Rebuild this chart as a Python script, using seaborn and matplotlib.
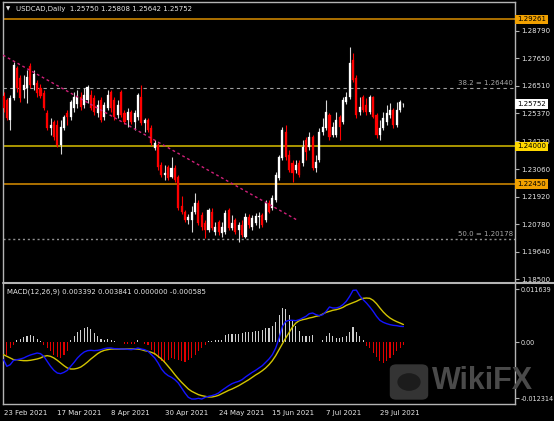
import matplotlib
matplotlib.use("Agg")
import matplotlib.pyplot as plt
import matplotlib.transforms as mtransforms
from matplotlib.patches import FancyBboxPatch, Circle
from matplotlib.lines import Line2D
import seaborn as sns
import numpy as np
import pandas as pd

# ---------------- data ----------------
opens = [1.2609, 1.2592, 1.2509, 1.2600, 1.2725, 1.2683, 1.2633, 1.2642, 1.2733, 1.2654,
         1.2662, 1.2642, 1.2621, 1.2538, 1.2476, 1.2501, 1.2489, 1.2406, 1.2476, 1.2538,
         1.2522, 1.2559, 1.2576, 1.2605, 1.2571, 1.2592, 1.2613, 1.2600, 1.2538, 1.2592,
         1.2522, 1.2559, 1.2625, 1.2592, 1.2530, 1.2625, 1.2538, 1.2509, 1.2542, 1.2501,
         1.2522, 1.2605, 1.2497, 1.2509, 1.2476, 1.2393, 1.2406, 1.2323, 1.2282, 1.2315,
         1.2273, 1.2311, 1.2273, 1.2153, 1.2129, 1.2095, 1.2095, 1.2129, 1.2166, 1.2116,
         1.2083, 1.2054, 1.2129, 1.2046, 1.2087, 1.2042, 1.2046, 1.2137, 1.2062, 1.2095,
         1.2054, 1.2075, 1.2025, 1.2108, 1.2066, 1.2083, 1.2108, 1.2116, 1.2095, 1.2166,
         1.2145, 1.2178, 1.2269, 1.2352, 1.2460, 1.2364, 1.2331, 1.2302, 1.2331, 1.2331,
         1.2427, 1.2398, 1.2439, 1.2311, 1.2344, 1.2460, 1.2476, 1.2530, 1.2447, 1.2447,
         1.2522, 1.2501, 1.2584, 1.2605, 1.2758, 1.2683, 1.2542, 1.2605, 1.2571, 1.2542,
         1.2605, 1.2530, 1.2447, 1.2476, 1.2501, 1.2530, 1.2551, 1.2489, 1.2551, 1.25750]
highs = [1.2625, 1.2600, 1.2613, 1.2749, 1.2733, 1.2696, 1.2696, 1.2716, 1.2745, 1.2716,
         1.2675, 1.2658, 1.2633, 1.2551, 1.2518, 1.2509, 1.2509, 1.2509, 1.2530, 1.2551,
         1.2592, 1.2625, 1.2633, 1.2625, 1.2642, 1.2654, 1.2633, 1.2613, 1.2592, 1.2605,
         1.2584, 1.2633, 1.2633, 1.2605, 1.2592, 1.2633, 1.2551, 1.2559, 1.2551, 1.2551,
         1.2621, 1.2654, 1.2518, 1.2518, 1.2489, 1.2427, 1.2414, 1.2336, 1.2323, 1.2323,
         1.2356, 1.2323, 1.2282, 1.2195, 1.2137, 1.2120, 1.2153, 1.2207, 1.2178, 1.2129,
         1.2095, 1.2145, 1.2145, 1.2087, 1.2095, 1.2087, 1.2137, 1.2145, 1.2116, 1.2104,
         1.2087, 1.2095, 1.2124, 1.2120, 1.2116, 1.2124, 1.2129, 1.2124, 1.2178, 1.2178,
         1.2199, 1.2294, 1.2364, 1.2480, 1.2489, 1.2385, 1.2344, 1.2344, 1.2344, 1.2427,
         1.2439, 1.2460, 1.2447, 1.2364, 1.2476, 1.2518, 1.2592, 1.2538, 1.2501, 1.2542,
         1.2530, 1.2605, 1.2625, 1.2811, 1.2787, 1.2696, 1.2605, 1.2613, 1.2600, 1.2613,
         1.2609, 1.2538, 1.2509, 1.2542, 1.2571, 1.2580, 1.2559, 1.2584, 1.2592, 1.25808]
lows = [1.2542, 1.2509, 1.2468, 1.2592, 1.2625, 1.2584, 1.2600, 1.2580, 1.2642, 1.2633,
        1.2605, 1.2600, 1.2551, 1.2468, 1.2447, 1.2427, 1.2398, 1.2369, 1.2468, 1.2489,
        1.2509, 1.2542, 1.2559, 1.2551, 1.2559, 1.2580, 1.2551, 1.2530, 1.2522, 1.2501,
        1.2509, 1.2551, 1.2542, 1.2509, 1.2518, 1.2522, 1.2493, 1.2480, 1.2493, 1.2468,
        1.2509, 1.2489, 1.2460, 1.2460, 1.2406, 1.2385, 1.2302, 1.2273, 1.2261, 1.2261,
        1.2269, 1.2253, 1.2137, 1.2120, 1.2087, 1.2079, 1.2046, 1.2120, 1.2075, 1.2054,
        1.2021, 1.2046, 1.2054, 1.2033, 1.2033, 1.2025, 1.2037, 1.2054, 1.2054, 1.2037,
        1.2004, 1.2025, 1.2021, 1.2062, 1.2054, 1.2075, 1.2062, 1.2066, 1.2087, 1.2124,
        1.2137, 1.2170, 1.2261, 1.2344, 1.2344, 1.2294, 1.2253, 1.2290, 1.2273, 1.2319,
        1.2344, 1.2385, 1.2302, 1.2294, 1.2336, 1.2447, 1.2468, 1.2427, 1.2439, 1.2439,
        1.2427, 1.2493, 1.2576, 1.2596, 1.2667, 1.2518, 1.2530, 1.2542, 1.2530, 1.2534,
        1.2518, 1.2435, 1.2427, 1.2468, 1.2489, 1.2518, 1.2476, 1.2480, 1.2542, 1.25642]
closes = [1.2559, 1.2518, 1.2600, 1.2737, 1.2642, 1.2600, 1.2654, 1.2687, 1.2654, 1.2700,
          1.2621, 1.2609, 1.2559, 1.2476, 1.2489, 1.2439, 1.2406, 1.2480, 1.2522, 1.2522,
          1.2584, 1.2605, 1.2605, 1.2563, 1.2613, 1.2646, 1.2559, 1.2542, 1.2571, 1.2509,
          1.2571, 1.2613, 1.2559, 1.2522, 1.2571, 1.2530, 1.2501, 1.2542, 1.2501, 1.2538,
          1.2613, 1.2497, 1.2509, 1.2468, 1.2414, 1.2414, 1.2315, 1.2282, 1.2290, 1.2269,
          1.2311, 1.2261, 1.2145, 1.2129, 1.2095, 1.2108, 1.2129, 1.2166, 1.2083, 1.2066,
          1.2054, 1.2137, 1.2062, 1.2066, 1.2046, 1.2066, 1.2124, 1.2062, 1.2083, 1.2046,
          1.2075, 1.2033, 1.2108, 1.2075, 1.2104, 1.2112, 1.2112, 1.2075, 1.2166, 1.2129,
          1.2186, 1.2282, 1.2356, 1.2468, 1.2356, 1.2302, 1.2290, 1.2323, 1.2282, 1.2398,
          1.2377, 1.2439, 1.2311, 1.2336, 1.2460, 1.2480, 1.2542, 1.2439, 1.2480, 1.2509,
          1.2480, 1.2592, 1.2605, 1.2745, 1.2675, 1.2530, 1.2563, 1.2551, 1.2542, 1.2605,
          1.2522, 1.2447, 1.2476, 1.2518, 1.2538, 1.2551, 1.2489, 1.2551, 1.2584, 1.25752]

macd_main = [-0.00388, -0.00534, -0.00498, -0.00402, -0.00388, -0.00373, -0.00351, -0.00315, -0.00285, -0.00263,
             -0.00242, -0.00256, -0.00315, -0.00425, -0.00534, -0.00622, -0.00681, -0.00695, -0.00666, -0.00622,
             -0.00534, -0.00447, -0.00351, -0.00278, -0.00220, -0.00190, -0.00183, -0.00190, -0.00183, -0.00168,
             -0.00146, -0.00132, -0.00132, -0.00146, -0.00146, -0.00154, -0.00154, -0.00161, -0.00168, -0.00154,
             -0.00132, -0.00154, -0.00168, -0.00205, -0.00278, -0.00351, -0.00461, -0.00593, -0.00681, -0.00739,
             -0.00776, -0.00827, -0.00900, -0.01010, -0.01120, -0.01215, -0.01252, -0.01252, -0.01237, -0.01252,
             -0.01215, -0.01193, -0.01178, -0.01156, -0.01120, -0.01061, -0.01010, -0.00959, -0.00915, -0.00886,
             -0.00864, -0.00827, -0.00768, -0.00717, -0.00666, -0.00622, -0.00571, -0.00520, -0.00447, -0.00373,
             -0.00278, -0.00132, 0.00088, 0.00344, 0.00454, 0.00476, 0.00476, 0.00468, 0.00490, 0.00527,
             0.00564, 0.00622, 0.00637, 0.00600, 0.00578, 0.00600, 0.00673, 0.00769, 0.00747, 0.00747,
             0.00769, 0.00820, 0.00893, 0.01003, 0.01135, 0.01140, 0.01017, 0.00930, 0.00856, 0.00769,
             0.00673, 0.00564, 0.00476, 0.00432, 0.00403, 0.00381, 0.00366, 0.00359, 0.00344, 0.003392]
macd_signal = [-0.00278, -0.00315, -0.00351, -0.00388, -0.00388, -0.00402, -0.00410, -0.00410, -0.00402, -0.00388,
               -0.00373, -0.00351, -0.00315, -0.00300, -0.00315, -0.00351, -0.00402, -0.00461, -0.00520, -0.00571,
               -0.00593, -0.00593, -0.00578, -0.00549, -0.00498, -0.00439, -0.00373, -0.00315, -0.00256, -0.00212,
               -0.00183, -0.00168, -0.00154, -0.00154, -0.00154, -0.00154, -0.00154, -0.00154, -0.00154, -0.00154,
               -0.00154, -0.00168, -0.00190, -0.00205, -0.00227, -0.00256, -0.00315, -0.00373, -0.00447, -0.00534,
               -0.00622, -0.00717, -0.00805, -0.00886, -0.00959, -0.01032, -0.01083, -0.01120, -0.01156, -0.01178,
               -0.01193, -0.01208, -0.01208, -0.01193, -0.01171, -0.01134, -0.01098, -0.01061, -0.01032, -0.00996,
               -0.00959, -0.00915, -0.00871, -0.00827, -0.00776, -0.00725, -0.00681, -0.00630, -0.00571, -0.00498,
               -0.00410, -0.00300, -0.00168, -0.00037, 0.00088, 0.00212, 0.00329, 0.00417, 0.00468, 0.00490,
               0.00505, 0.00527, 0.00542, 0.00564, 0.00578, 0.00615, 0.00651, 0.00673, 0.00696, 0.00710,
               0.00732, 0.00761, 0.00805, 0.00835, 0.00864, 0.00893, 0.00930, 0.00959, 0.00966, 0.00959,
               0.00915, 0.00842, 0.00747, 0.00659, 0.00586, 0.00527, 0.00483, 0.00447, 0.00417, 0.003841]
macd_hist = [-0.00242, -0.00278, -0.00132, -0.00059, 0.00037, 0.00066, 0.00102, 0.00139, 0.00146, 0.00124,
             0.00066, 0.00015, -0.00059, -0.00132, -0.00205, -0.00278, -0.00329, -0.00351, -0.00278, -0.00205,
             0.00051, 0.00139, 0.00212, 0.00271, 0.00307, 0.00329, 0.00285, 0.00198, 0.00124, 0.00066,
             0.00051, 0.00066, 0.00037, 0.00015, 0.00007, 0.0, -0.00037, -0.00044, -0.00051, -0.00044,
             0.00037, 0.0, -0.00037, -0.00059, -0.00168, -0.00278, -0.00351, -0.00425, -0.00461, -0.00403,
             -0.00351, -0.00373, -0.00403, -0.00425, -0.00439, -0.00403, -0.00351, -0.00278, -0.00205, -0.00132,
             -0.00059, 0.00015, 0.00015, 0.00037, 0.00037, 0.00051, 0.00161, 0.00176, 0.00183, 0.00176,
             0.00176, 0.00198, 0.00212, 0.00212, 0.00220, 0.00249, 0.00249, 0.00271, 0.00300, 0.00307,
             0.00359, 0.00432, 0.00600, 0.00747, 0.00725, 0.00600, 0.00490, 0.00359, 0.00234, 0.00139,
             0.00124, 0.00139, 0.00161, 0.0, 0.0, 0.00051, 0.00124, 0.00198, 0.00124, 0.00088,
             0.00088, 0.00102, 0.00139, 0.00212, 0.00329, 0.00212, 0.00124, 0.00051, -0.00095, -0.00132,
             -0.00242, -0.00329, -0.00425, -0.00461, -0.00425, -0.00351, -0.00278, -0.00205, -0.00132, -0.000585]

date_tick_pos = [0, 16, 32, 48, 64, 80, 96, 112]
date_tick_labels = ["23 Feb 2021", "17 Mar 2021", "8 Apr 2021", "30 Apr 2021",
                    "24 May 2021", "15 Jun 2021", "7 Jul 2021", "29 Jul 2021"]
price_ticks = [1.28790, 1.27650, 1.26510, 1.25370, 1.24220, 1.23060, 1.21920, 1.20780, 1.19640, 1.18500]
price_tick_labels = ["1.28790", "1.27650", "1.26510", "1.25370", "1.24220", "1.23060",
                     "1.21920", "1.20780", "1.19640", "1.18500"]
macd_ticks = [0.011639, 0.0, -0.012314]
macd_tick_labels = ["0.011639", "0.00", "-0.012314"]
level_values = [1.29261, 1.24000, 1.22450]
level_labels = ["1.29261", "1.24000", "1.22450"]
fib_values = [1.26440, 1.20178]
fib_labels = ["38.2 = 1.26440", "50.0 = 1.20178"]
trend_x = [-0.15, 87.4]
trend_y = [1.2778, 1.2095]
last_price = 1.25752
last_label = "1.25752"
title_text = "USDCAD,Daily  1.25750 1.25808 1.25642 1.25752"
macd_text = "MACD(12,26,9) 0.003392 0.003841 0.000000 -0.000585"

# ---------------- style ----------------
sns.set_theme(style="dark", rc={"axes.facecolor": "black", "figure.facecolor": "black"})
plt.rcParams['font.family'] = ['DejaVu Sans']

W, H = 554, 421
fig = plt.figure(figsize=(W / 100, H / 100), dpi=100)
fig.patch.set_facecolor('black')

ax = fig.add_axes([3 / W, 1 - 282 / H, 512 / W, 280 / H])
ax2 = fig.add_axes([3 / W, 1 - 404 / H, 512 / W, 120 / H])
spine_col = '#b4b4b4'
txt_col = '#e6e6e6'
FS = 5

df = pd.DataFrame({"o": opens, "h": highs, "l": lows, "c": closes})
df["x"] = np.arange(len(df))
up = df["c"] >= df["o"]
body_col = np.where(up, '#ffffff', '#ff0000')
wick_col = np.where(up, '#d8d8d8', '#ff0000')

for a in (ax, ax2):
    a.set_facecolor('black')
    a.set_xlim(-0.15, 152.2)
    for s in a.spines.values():
        s.set_color(spine_col)
        s.set_linewidth(1.0)
    a.grid(False)
ax.spines['bottom'].set_visible(False)
ax2.spines['top'].set_visible(False)

# reference lines
lvl_cols = ['#c98300', '#c8b000', '#c98300']
lvl_box = ['#f0a000', '#ffd800', '#f0a000']
for v, c in zip(level_values, lvl_cols):
    ax.axhline(v, color=c, lw=1.2, zorder=1)
ax.axhline(fib_values[0], color='#a0a0a0', lw=0.8, ls=(0, (3, 3)), zorder=1)
ax.axhline(fib_values[1], color='#909090', lw=1.0, ls=(0, (1.5, 2)), zorder=1)

# candles
ax.vlines(df["x"], df["l"], df["h"], colors=wick_col, lw=0.8, zorder=3)
body_h = np.maximum((df["c"] - df["o"]).abs(), 0.00012)
ax.bar(df["x"], body_h, bottom=np.minimum(df["o"], df["c"]), width=0.62,
       color=body_col, edgecolor=body_col, linewidth=0.2, zorder=4)

# trend line
ax.plot(trend_x, trend_y, color='#d0207a', lw=1.0, ls=(0, (2, 2)), zorder=5)

ax.set_ylim(1.18388, 1.2998)
ax.set_xticks([])
ax.yaxis.tick_right()
ax.set_yticks(price_ticks)
ax.set_yticklabels(price_tick_labels)
ax.tick_params(axis='y', direction='out', length=3, width=0.8, color=spine_col,
               labelcolor=txt_col, labelsize=FS, pad=1.5)

blend = mtransforms.blended_transform_factory(ax.transAxes, ax.transData)
for v, lab, bc in zip(level_values, level_labels, lvl_box):
    ax.text(1.004, v, lab, transform=blend, ha='left', va='center', fontsize=FS,
            color='black', zorder=10, clip_on=False,
            bbox=dict(boxstyle='square,pad=0.25', fc=bc, ec='none'))
ax.text(1.004, last_price, last_label, transform=blend, ha='left', va='center', fontsize=FS,
        color='black', zorder=10, clip_on=False,
        bbox=dict(boxstyle='square,pad=0.25', fc='white', ec='none'))
for v, lab in zip(fib_values, fib_labels):
    ax.annotate(lab, xy=(0.996, v), xycoords=blend, xytext=(0, 1.2), textcoords='offset points',
                ha='right', va='bottom', fontsize=FS, color='#a8a8a8', zorder=6)

fig.text(16 / W, 1 - 8.5 / H, title_text, color=txt_col, fontsize=FS, ha='left', va='center')
fig.text(6 / W, 1 - 8.5 / H, "\u25bc", color=txt_col, fontsize=4, ha='left', va='center')

# ---------------- MACD ----------------
x = np.arange(len(macd_hist))
hist = np.array(macd_hist)
hcol = np.where(hist >= 0, '#cfcfcf', '#e00000')
ax2.bar(x, hist, width=0.32, color=hcol, linewidth=0, zorder=2)
sns.lineplot(x=x, y=macd_main, ax=ax2, color='#1414ff', lw=1.0, zorder=4)
sns.lineplot(x=x, y=macd_signal, ax=ax2, color='#d2c400', lw=1.0, zorder=3)
ax2.set_ylim(-0.013615, 0.012737)
ax2.yaxis.tick_right()
ax2.set_yticks(macd_ticks)
ax2.set_yticklabels(macd_tick_labels)
ax2.tick_params(axis='y', direction='out', length=3, width=0.8, color=spine_col,
                labelcolor=txt_col, labelsize=4.7, pad=1.0)
ax2.set_xticks(date_tick_pos)
ax2.set_xticklabels(date_tick_labels, ha='left')
ax2.tick_params(axis='x', direction='out', length=3, width=0.8, color=spine_col,
                labelcolor=txt_col, labelsize=FS, pad=1.5)
ax2.set_xlabel("")
ax2.set_ylabel("")
ax2.text(0.008, 0.935, macd_text, transform=ax2.transAxes, ha='left', va='center',
         fontsize=FS, color=txt_col)

# separator between panels
fig.add_artist(Line2D([3 / W, 1.0], [1 - 283 / H, 1 - 283 / H], color=spine_col, lw=1.5))

# watermark
fig.add_artist(FancyBboxPatch((392 / W, 1 - 398 / H), 34 / W, 32 / H,
                              boxstyle='round,pad=0.004,rounding_size=0.012',
                              fc='#3a3a3a', ec='none', alpha=0.9, zorder=20))
fig.add_artist(Circle((409 / W, 1 - 382 / H), 0.021, transform=fig.transFigure,
                      fc='#1c1c1c', ec='none', zorder=21))
fig.text(432 / W, 1 - 381 / H, "WikiFX", fontsize=22, fontweight='bold',
         family='Liberation Sans', color='#4a4a4a', ha='left', va='center', zorder=22)

fig.savefig("out.png", dpi=100, facecolor='black')
